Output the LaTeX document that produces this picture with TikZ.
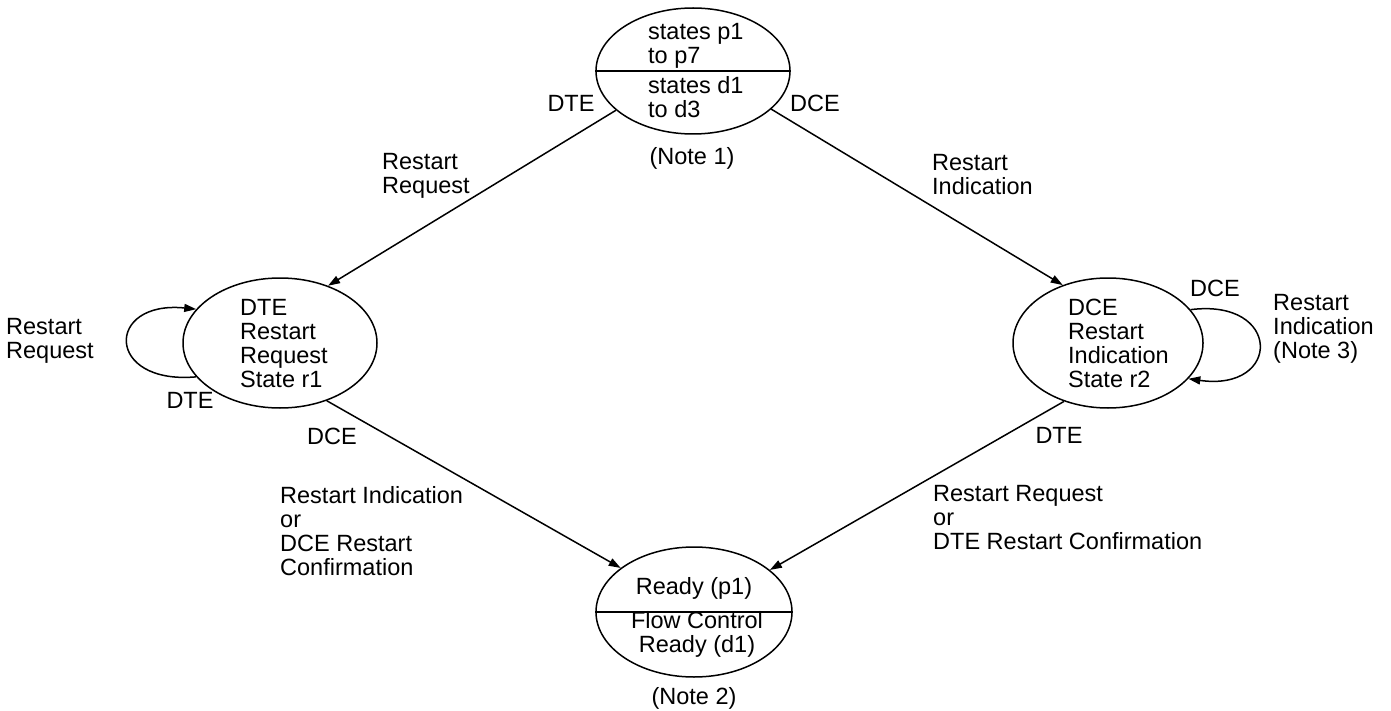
\documentclass[tikz,border=0pt]{standalone}
\usepackage{fontspec}
\setmainfont{Liberation Sans}
\usetikzlibrary{arrows.meta, shapes.geometric}
\begin{document}
\begin{tikzpicture}[x=1pt, y=-1pt,
  state/.style={draw, ellipse, line width=1.5pt, minimum width=194pt, minimum height=130pt, inner sep=0pt},
  txt/.style={inner sep=0pt, align=left, font=\fontsize{23.5}{24}\selectfont},
  ctxt/.style={txt, align=center},
  flow/.style={line width=1.5pt, -{Triangle[length=12pt, width=8pt]}},
]
\fill[white] (0,0) rectangle (1391,711);
\useasboundingbox (0,0) rectangle (1391,711);

% states
\node[state, minimum height=126pt] (T) at (693,71) {};
\node[state] (L) at (280,343) {};
\node[state, minimum width=190pt] (R) at (1108,343) {};
\node[state, minimum width=196pt] (B) at (694,612) {};

% split lines of the two combined states
\draw[line width=1.5pt] (T.west) -- (T.east);
\draw[line width=1.5pt] (B.west) -- (B.east);

% texts inside the states
\node[txt, anchor=west] (Tp) at (648,45.5) {states p1\\to p7};
\node[txt, anchor=west] (Td) at (648,97.5) {states d1\\to d3};
\node[txt, anchor=west] (Lt) at (240,343.5) {DTE\\Restart\\Request\\State r1};
\node[txt, anchor=west] (Rt) at (1068,343) {DCE\\Restart\\Indication\\State r2};
\node[ctxt] (Bp) at (694,588) {Ready (p1)};
\node[ctxt] (Bd) at (697,634.5) {Flow Control\\Ready (d1)};

% notes
\node[txt] (n1) at (692,158) {(Note 1)};
\node[txt] (n2) at (694,698) {(Note 2)};

% transitions
\draw[flow] (T.207) -- (L.50);
\draw[flow] (T.334) -- (R.128);
\draw[flow] (L.309) -- (B.149);
\draw[flow] (R.233) -- (B.29);
\draw[flow] (L.202) .. controls (105,385) and (105,300) .. (L.158);
\draw[flow] (R.22) .. controls (1282,298) and (1282,392) .. (R.336);

% transition labels
\node[txt] (tdte) at (571,103) {DTE};
\node[txt] (tdce) at (815,103) {DCE};
\node[txt, anchor=west] (lrq) at (382,176) {Restart\\Request};
\node[txt, anchor=west] (lri) at (932,175) {Restart\\Indication};
\node[txt, anchor=west] (looprq) at (6,341) {Restart\\Request};
\node[txt] (loopdte) at (190,400) {DTE};
\node[txt] (ldce) at (332,436) {DCE};
\node[txt] (loopdce) at (1215,288) {DCE};
\node[txt, anchor=west] (loopri) at (1273,329) {Restart\\Indication\\(Note 3)};
\node[txt] (rdte) at (1059,435) {DTE};
\node[txt, anchor=west] (lconf) at (280,531) {Restart Indication\\or\\DCE Restart\\Confirmation};
\node[txt, anchor=west] (rconf) at (933,518) {Restart Request\\or\\DTE Restart Confirmation};
\end{tikzpicture}
\end{document}
